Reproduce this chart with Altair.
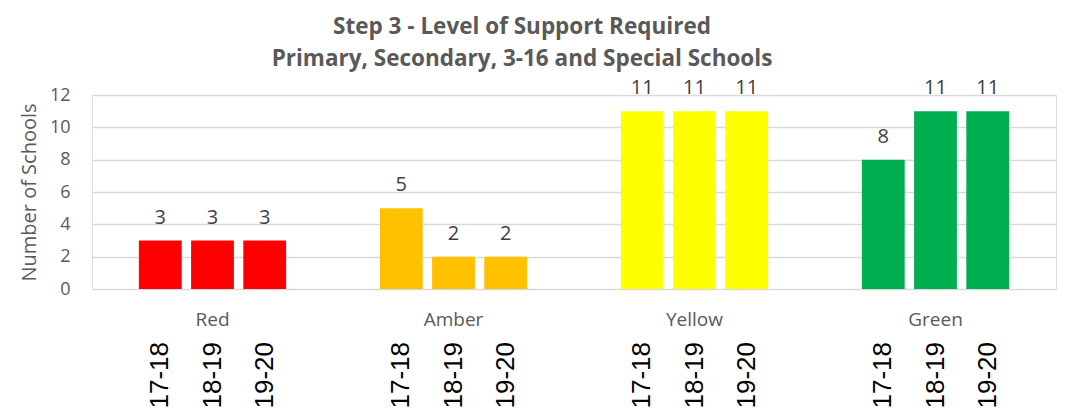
import altair as alt
import pandas as pd

categories = ["Red", "Amber", "Yellow", "Green"]
years = ["17-18", "18-19", "19-20"]
red_vals = [3, 3, 3]
amber_vals = [5, 2, 2]
yellow_vals = [11, 11, 11]
green_vals = [8, 11, 11]
y_ticks = [0, 2, 4, 6, 8, 10, 12]
bar_colors = ["#FF0000", "#FFC000", "#FFFF00", "#00B050"]

rows = []
for cat, vals in zip(categories, [red_vals, amber_vals, yellow_vals, green_vals]):
    for yr, v in zip(years, vals):
        rows.append({"category": cat, "year": yr, "value": v})
df = pd.DataFrame(rows)

W, H = 964, 194
FONT = "Open Sans"

x_enc = alt.X("category:N", sort=categories,
              scale=alt.Scale(paddingInner=0.35, paddingOuter=0.175),
              axis=alt.Axis(title=None, labelAngle=0, labelFontSize=19, labelColor="#595959",
                            labelFont=FONT, labelPadding=21, ticks=False, domain=False, grid=False))
xo_enc = alt.XOffset("year:N", sort=years, scale=alt.Scale(paddingInner=0.18, paddingOuter=0.09))
y_enc = alt.Y("value:Q", scale=alt.Scale(domain=[0, 12]),
              axis=alt.Axis(title="Number of Schools", values=y_ticks, tickCount=7,
                            labelFontSize=18, labelColor="#595959", labelFont=FONT, labelPadding=22,
                            labelOverlap=False, labelBound=False, labelFlush=False,
                            titleFontSize=20, titleColor="#595959", titleFont=FONT,
                            titleFontWeight="normal", titlePadding=10, ticks=False, domain=False,
                            gridColor="#D9D9D9", gridWidth=1.5))

base = alt.Chart(df)

bars = base.mark_bar().encode(
    x=x_enc,
    xOffset=xo_enc,
    y=y_enc,
    color=alt.Color("category:N", sort=categories,
                    scale=alt.Scale(domain=categories, range=bar_colors), legend=None),
)

labels = base.mark_text(baseline="bottom", dy=-13, fontSize=20, color="#404040", font=FONT).encode(
    x=x_enc,
    xOffset=xo_enc,
    y=y_enc,
    text=alt.Text("value:Q"),
)

year_labels = base.mark_text(angle=270, align="right", baseline="middle", fontSize=26,
                             color="#000000", font="Liberation Sans").encode(
    x=x_enc,
    xOffset=xo_enc,
    y=alt.value(H + 53),
    text="year:N",
)

chart = alt.layer(bars, labels, year_labels).properties(
    width=W, height=H,
    title=alt.TitleParams(["Step 3 - Level of Support Required",
                           "Primary, Secondary, 3-16 and Special Schools"],
                          fontSize=22.5, fontWeight="bold", color="#595959", font=FONT,
                          anchor="middle", dx=-52, offset=8, lineHeight=32),
    autosize=alt.AutoSizeParams(type="none"),
    padding={"left": 84, "top": 87, "right": 10, "bottom": 120},
).configure_view(stroke=None).configure(background="white")

chart.save("out.html", embed_options={"renderer": "svg", "actions": False})
